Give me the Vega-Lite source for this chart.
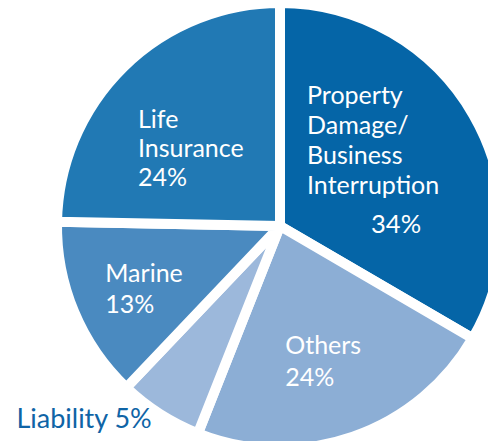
{
  "$schema": "https://vega.github.io/schema/vega-lite/v6.json",
  "autosize": {"type": "none"},
  "width": 560,
  "height": 452,
  "padding": {"left": 0, "top": 0, "right": -72, "bottom": -11},
  "background": "white",
  "view": {"stroke": null},
  "data": {
    "values": [
      {"category": "Property Damage/Business Interruption", "share": 33.4, "rank": 1, "label": "Property\nDamage/\nBusiness\nInterruption", "pct": "34%"},
      {"category": "Others", "share": 22.6, "rank": 2, "label": "Others\n24%", "pct": "24%"},
      {"category": "Liability", "share": 6.1, "rank": 3, "label": "Liability 5%", "pct": "5%"},
      {"category": "Marine", "share": 13.2, "rank": 4, "label": "Marine\n13%", "pct": "13%"},
      {"category": "Life Insurance", "share": 24.7, "rank": 5, "label": "Life\nInsurance\n24%", "pct": "24%"}
    ]
  },
  "encoding": {
    "theta": {"field": "share", "type": "quantitative", "stack": true},
    "order": {"field": "rank", "type": "quantitative"}
  },
  "layer": [
    {
      "mark": {"type": "arc", "outerRadius": 223, "stroke": "white", "strokeWidth": 10, "strokeJoin": "round"},
      "encoding": {
        "color": {
          "field": "category",
          "type": "nominal",
          "scale": {
            "domain": ["Property Damage/Business Interruption", "Others", "Liability", "Marine", "Life Insurance"],
            "range": ["#0565A7", "#8CAED5", "#9CB8DB", "#4A8AC0", "#2179B4"]
          },
          "legend": null
        }
      }
    },
    {
      "mark": {"type": "text", "font": "Lato", "fontSize": 25, "align": "left", "baseline": "alphabetic", "lineBreak": "\n", "lineHeight": 30, "radius": 120, "dx": -77, "dy": -62, "color": "white"},
      "encoding": {"text": {"condition": {"test": "datum.rank === 1", "field": "label"}, "value": ""}}
    },
    {
      "mark": {"type": "text", "font": "Lato", "fontSize": 25.5, "align": "left", "baseline": "alphabetic", "radius": 120, "dx": -13, "dy": 67, "color": "white"},
      "encoding": {"text": {"condition": {"test": "datum.rank === 1", "field": "pct"}, "value": ""}}
    },
    {
      "mark": {"type": "text", "font": "Lato", "fontSize": 25, "align": "left", "baseline": "alphabetic", "lineBreak": "\n", "lineHeight": 32, "radius": 120, "dx": -34, "dy": 15, "color": "white"},
      "encoding": {"text": {"condition": {"test": "datum.rank === 2", "field": "label"}, "value": ""}}
    },
    {
      "mark": {"type": "text", "font": "Lato", "fontSize": 27, "align": "right", "baseline": "alphabetic", "radius": 240, "dx": 1, "dy": 0, "color": "#0F64A6"},
      "encoding": {"text": {"condition": {"test": "datum.rank === 3", "field": "label"}, "value": ""}}
    },
    {
      "mark": {"type": "text", "font": "Lato", "fontSize": 25, "align": "left", "baseline": "alphabetic", "lineBreak": "\n", "lineHeight": 31, "radius": 120, "dx": -64, "dy": 10, "color": "white"},
      "encoding": {"text": {"condition": {"test": "datum.rank === 4", "field": "label"}, "value": ""}}
    },
    {
      "mark": {"type": "text", "font": "Lato", "fontSize": 25, "align": "left", "baseline": "alphabetic", "lineBreak": "\n", "lineHeight": 29, "radius": 120, "dx": -58, "dy": -12, "color": "white"},
      "encoding": {"text": {"condition": {"test": "datum.rank === 5", "field": "label"}, "value": ""}}
    }
  ]
}
